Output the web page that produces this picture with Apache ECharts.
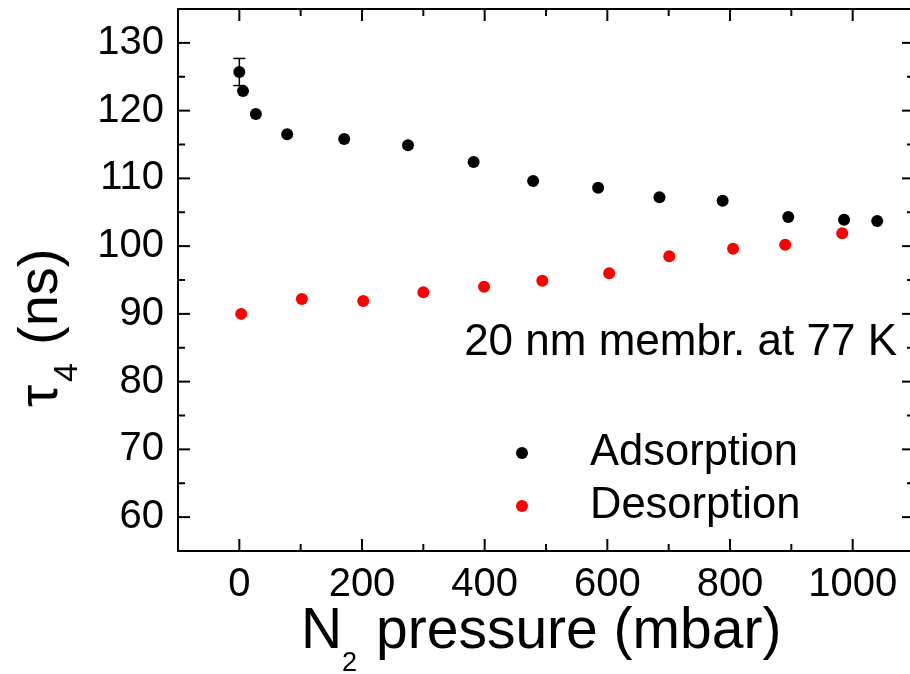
<!DOCTYPE html>
<html><head><meta charset="utf-8">
<script src="https://cdn.jsdelivr.net/npm/echarts@6/dist/echarts.min.js"></script>
<style>html,body{margin:0;padding:0;background:#fff}#c{width:910px;height:674px}</style>
</head><body><div id="c"></div>
<script>
const adsX = [0, 6, 27, 78, 171, 275, 382, 479, 585, 685, 788, 895, 986, 1040];
const adsY = [125.7, 122.9, 119.5, 116.5, 115.8, 114.9, 112.4, 109.6, 108.6, 107.2, 106.7, 104.3, 103.9, 103.7];
const desX = [3, 102, 202, 300, 399, 494, 603, 701, 805, 890, 983];
const desY = [90.0, 92.2, 91.9, 93.2, 94.0, 94.9, 96.0, 98.5, 99.6, 100.2, 101.9];
const errBars = [[0, 123.7, 127.7]];
const xMajor = [0, 200, 400, 600, 800, 1000];
const xMinor = [100, 300, 500, 700, 900];
const yMajor = [60, 70, 80, 90, 100, 110, 120, 130];
const yMinor = [65, 75, 85, 95, 105, 115, 125];
const X_MIN = -100, X_MAX = 1100, Y_MIN = 55, Y_MAX = 135;

const FONT = 'Liberation Sans, Arial, sans-serif';
const chart = echarts.init(document.getElementById('c'));

function xAx(labels) {
  return {
    type: 'value', min: X_MIN, max: X_MAX, interval: 200,
    axisLine: {show: true, onZero: false, lineStyle: {color: '#000', width: 2}},
    axisTick: {show: false},
    axisLabel: labels ? {show: true, customValues: xMajor, fontSize: 40, color: '#000', fontFamily: FONT, margin: 14, formatter: v => String(v)} : {show: false},
    splitLine: {show: false}
  };
}
function yAx(labels) {
  return {
    type: 'value', min: Y_MIN, max: Y_MAX, interval: 10,
    axisLine: {show: true, onZero: false, lineStyle: {color: '#000', width: 2}},
    axisTick: {show: false},
    axisLabel: labels ? {show: true, customValues: yMajor, fontSize: 40, color: '#000', fontFamily: FONT, margin: 14, formatter: v => String(v)} : {show: false},
    splitLine: {show: false}
  };
}

// tick table built from the tick arrays: [x, y, isYAxisTick, isMajor]
const tickItems = []
  .concat(xMajor.map(v => [v, Y_MIN, 0, 1]))
  .concat(xMinor.map(v => [v, Y_MIN, 0, 0]))
  .concat(yMajor.map(v => [X_MIN, v, 1, 1]))
  .concat(yMinor.map(v => [X_MIN, v, 1, 0]));

const option = {
  animation: false,
  grid: {left: 178, top: 9, width: 736, height: 542, outerBoundsMode: 'none'},
  xAxis: [xAx(true), xAx(false)],
  yAxis: [yAx(true), yAx(false)],
  legend: {
    data: ['Adsorption', 'Desorption'],
    orient: 'vertical', left: 511, top: 426,
    itemWidth: 12, itemHeight: 12, itemGap: 9,
    textStyle: {fontSize: 43.5, color: '#000', fontFamily: FONT, lineHeight: 42, padding: [0, 0, 0, 57]}
  },
  graphic: [
    {type: 'text', x: 897, y: 343, style: {text: '20 nm membr. at 77 K', fontSize: 44, fontFamily: FONT, fill: '#000', align: 'right', verticalAlign: 'middle'}},
    {type: 'text', x: 301, y: 632, style: {text: 'N', fontSize: 57, fontFamily: FONT, fill: '#000', align: 'left', verticalAlign: 'middle'}},
    {type: 'text', x: 342, y: 663.5, style: {text: '2', fontSize: 27, fontFamily: FONT, fill: '#000', align: 'left', verticalAlign: 'middle'}},
    {type: 'text', x: 376, y: 632, style: {text: 'pressure (mbar)', fontSize: 57, fontFamily: FONT, fill: '#000', align: 'left', verticalAlign: 'middle'}},
    {type: 'text', x: 42, y: 407, rotation: Math.PI / 2, style: {text: '\u03c4', fontSize: 56, fontFamily: FONT, fill: '#000', align: 'left', verticalAlign: 'middle'}},
    {type: 'text', x: 68, y: 382, rotation: Math.PI / 2, style: {text: '4', fontSize: 34, fontFamily: FONT, fill: '#000', align: 'left', verticalAlign: 'middle'}},
    {type: 'text', x: 42, y: 345, rotation: Math.PI / 2, style: {text: '(ns)', fontSize: 56, fontFamily: FONT, fill: '#000', align: 'left', verticalAlign: 'middle'}}
  ],
  series: [
    {
      type: 'custom', name: 'ticks', xAxisIndex: 0, yAxisIndex: 0, silent: true, clip: false,
      data: tickItems,
      renderItem: function (params, api) {
        const cs = params.coordSys;
        const isY = api.value(2), major = api.value(3);
        const len = major ? 12 : 7;
        const p = api.coord([api.value(0), api.value(1)]);
        const st = {stroke: '#000', lineWidth: 2};
        if (!isY) {
          const b = cs.y + cs.height, t = cs.y;
          return {type: 'group', children: [
            {type: 'line', shape: {x1: p[0], y1: b, x2: p[0], y2: b - len}, style: st},
            {type: 'line', shape: {x1: p[0], y1: t, x2: p[0], y2: t + len}, style: st}
          ]};
        }
        const l = cs.x, r = cs.x + cs.width;
        return {type: 'group', children: [
          {type: 'line', shape: {x1: l, y1: p[1], x2: l + len, y2: p[1]}, style: st},
          {type: 'line', shape: {x1: r, y1: p[1], x2: r - len, y2: p[1]}, style: st}
        ]};
      },
      z: 1
    },
    {
      type: 'custom', name: 'err', xAxisIndex: 0, yAxisIndex: 0,
      data: errBars,
      renderItem: function (params, api) {
        const x = api.value(0), lo = api.value(1), hi = api.value(2);
        const pLo = api.coord([x, lo]), pHi = api.coord([x, hi]);
        const w = 6;
        const st = {stroke: '#000', lineWidth: 1.5};
        return {type: 'group', children: [
          {type: 'line', shape: {x1: pLo[0], y1: pLo[1], x2: pHi[0], y2: pHi[1]}, style: st},
          {type: 'line', shape: {x1: pLo[0] - w, y1: pLo[1], x2: pLo[0] + w, y2: pLo[1]}, style: st},
          {type: 'line', shape: {x1: pHi[0] - w, y1: pHi[1], x2: pHi[0] + w, y2: pHi[1]}, style: st}
        ]};
      },
      z: 2
    },
    {
      type: 'scatter', name: 'Adsorption', xAxisIndex: 0, yAxisIndex: 0,
      symbol: 'circle', symbolSize: 12, itemStyle: {color: '#000', opacity: 1},
      data: adsX.map((x, i) => [x, adsY[i]]), z: 3
    },
    {
      type: 'scatter', name: 'Desorption', xAxisIndex: 0, yAxisIndex: 0,
      symbol: 'circle', symbolSize: 12, itemStyle: {color: '#ff0000', opacity: 1},
      data: desX.map((x, i) => [x, desY[i]]), z: 3
    }
  ]
};
chart.setOption(option);
</script></body></html>
